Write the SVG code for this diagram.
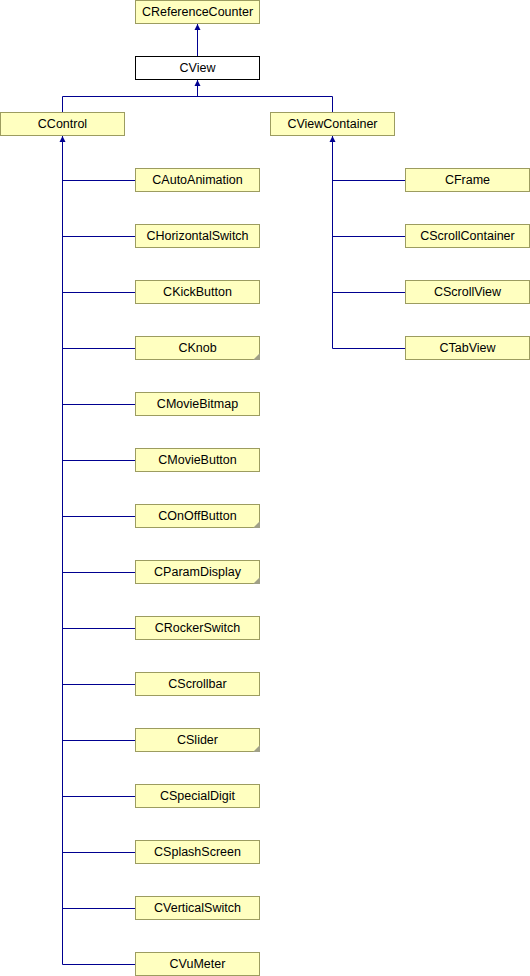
<svg xmlns="http://www.w3.org/2000/svg" width="530" height="976" viewBox="0 0 530 976">
<style>
.n rect{fill:#ffffc0;stroke:#9c9c60;stroke-width:1}
.n text{font-family:"Liberation Sans",Arial,sans-serif;font-size:12.5px;fill:#000;text-anchor:middle}
.cur rect{fill:#fff;stroke:#000}
.e{stroke:#000090;stroke-width:1;fill:none}
.fold{fill:#a0a088}
.ah{fill:#000090}
</style>
<rect width="530" height="976" fill="#fff"/>
<g id="edges">
<path class="e" d="M197.5,56 V24"/>
<path class="ah" d="M197.5,24 L200.5,30 L194.5,30 Z"/>
<path class="e" d="M197.5,96.5 V80 M62.5,112 V96.5 H332.5 V112"/>
<path class="ah" d="M197.5,80 L200.5,86 L194.5,86 Z"/>
<path class="e" d="M62.5,136 V964.5"/>
<path class="ah" d="M62.5,136 L65.5,142 L59.5,142 Z"/>
<path class="e" d="M62.5,180.5 H135 M62.5,236.5 H135 M62.5,292.5 H135 M62.5,348.5 H135 M62.5,404.5 H135 M62.5,460.5 H135 M62.5,516.5 H135 M62.5,572.5 H135 M62.5,628.5 H135 M62.5,684.5 H135 M62.5,740.5 H135 M62.5,796.5 H135 M62.5,852.5 H135 M62.5,908.5 H135 M62.5,964.5 H135"/>
<path class="e" d="M332.5,136 V348.5"/>
<path class="ah" d="M332.5,136 L335.5,142 L329.5,142 Z"/>
<path class="e" d="M332.5,180.5 H405 M332.5,236.5 H405 M332.5,292.5 H405 M332.5,348.5 H405"/>
</g>
<g id="CReferenceCounter" class="n"><rect x="135.5" y="0.5" width="124" height="23"/><text x="197.5" y="16">CReferenceCounter</text></g>
<g id="CView" class="n cur"><rect x="135.5" y="56.5" width="124" height="23"/><text x="197.5" y="72">CView</text></g>
<g id="CControl" class="n"><rect x="0.5" y="112.5" width="124" height="23"/><text x="62.5" y="128">CControl</text></g>
<g id="CViewContainer" class="n"><rect x="270.5" y="112.5" width="124" height="23"/><text x="332.5" y="128">CViewContainer</text></g>
<g id="CAutoAnimation" class="n"><rect x="135.5" y="168.5" width="124" height="23"/><text x="197.5" y="184">CAutoAnimation</text></g>
<g id="CHorizontalSwitch" class="n"><rect x="135.5" y="224.5" width="124" height="23"/><text x="197.5" y="240">CHorizontalSwitch</text></g>
<g id="CKickButton" class="n"><rect x="135.5" y="280.5" width="124" height="23"/><text x="197.5" y="296">CKickButton</text></g>
<g id="CKnob" class="n"><rect x="135.5" y="336.5" width="124" height="23"/><text x="197.5" y="352">CKnob</text><path class="fold" d="M253,360 L260,360 L260,353 Z"/></g>
<g id="CMovieBitmap" class="n"><rect x="135.5" y="392.5" width="124" height="23"/><text x="197.5" y="408">CMovieBitmap</text></g>
<g id="CMovieButton" class="n"><rect x="135.5" y="448.5" width="124" height="23"/><text x="197.5" y="464">CMovieButton</text></g>
<g id="COnOffButton" class="n"><rect x="135.5" y="504.5" width="124" height="23"/><text x="197.5" y="520">COnOffButton</text><path class="fold" d="M253,528 L260,528 L260,521 Z"/></g>
<g id="CParamDisplay" class="n"><rect x="135.5" y="560.5" width="124" height="23"/><text x="197.5" y="576">CParamDisplay</text><path class="fold" d="M253,584 L260,584 L260,577 Z"/></g>
<g id="CRockerSwitch" class="n"><rect x="135.5" y="616.5" width="124" height="23"/><text x="197.5" y="632">CRockerSwitch</text></g>
<g id="CScrollbar" class="n"><rect x="135.5" y="672.5" width="124" height="23"/><text x="197.5" y="688">CScrollbar</text></g>
<g id="CSlider" class="n"><rect x="135.5" y="728.5" width="124" height="23"/><text x="197.5" y="744">CSlider</text><path class="fold" d="M253,752 L260,752 L260,745 Z"/></g>
<g id="CSpecialDigit" class="n"><rect x="135.5" y="784.5" width="124" height="23"/><text x="197.5" y="800">CSpecialDigit</text></g>
<g id="CSplashScreen" class="n"><rect x="135.5" y="840.5" width="124" height="23"/><text x="197.5" y="856">CSplashScreen</text></g>
<g id="CVerticalSwitch" class="n"><rect x="135.5" y="896.5" width="124" height="23"/><text x="197.5" y="912">CVerticalSwitch</text></g>
<g id="CVuMeter" class="n"><rect x="135.5" y="952.5" width="124" height="23"/><text x="197.5" y="968">CVuMeter</text></g>
<g id="CFrame" class="n"><rect x="405.5" y="168.5" width="124" height="23"/><text x="467.5" y="184">CFrame</text></g>
<g id="CScrollContainer" class="n"><rect x="405.5" y="224.5" width="124" height="23"/><text x="467.5" y="240">CScrollContainer</text></g>
<g id="CScrollView" class="n"><rect x="405.5" y="280.5" width="124" height="23"/><text x="467.5" y="296">CScrollView</text></g>
<g id="CTabView" class="n"><rect x="405.5" y="336.5" width="124" height="23"/><text x="467.5" y="352">CTabView</text></g>
</svg>
